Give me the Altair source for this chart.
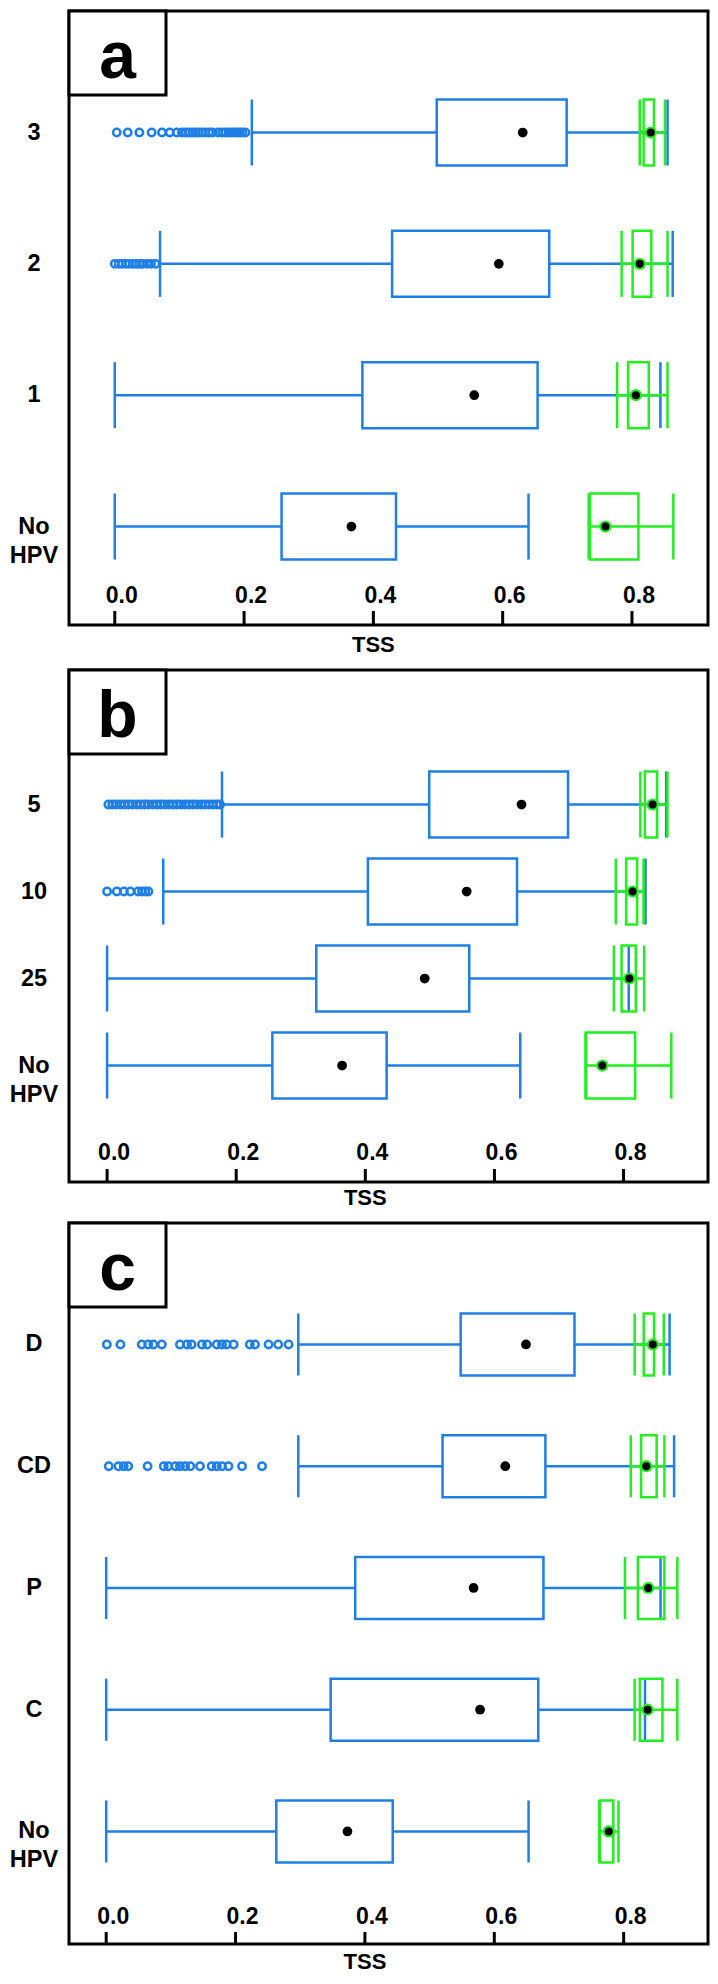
import altair as alt
import pandas as pd

BLUE = "#1F7FE6"
GREEN = "#22EE22"
FONT = "Liberation Sans"

# ---------------- panel a ----------------
cats_a = ["3", "2", "1", "No HPV"]
a_low = [0.212, 0.070, 0.000, 0.000]
a_q1 = [0.498, 0.429, 0.383, 0.258]
a_q3 = [0.699, 0.672, 0.654, 0.435]
a_high = [0.855, 0.863, 0.844, 0.640]
a_mean = [0.631, 0.594, 0.556, 0.366]
a_glow = [0.812, 0.784, 0.777, 0.733]
a_gq1 = [0.818, 0.801, 0.794, 0.735]
a_gq3 = [0.834, 0.830, 0.826, 0.810]
a_ghigh = [0.851, 0.855, 0.855, 0.864]
a_gmean = [0.829, 0.812, 0.806, 0.759]
a_out_3 = [0.003, 0.020, 0.038, 0.057, 0.073, 0.085, 0.096, 0.104, 0.110, 0.115,
           0.120, 0.125, 0.130, 0.135, 0.140, 0.146, 0.151, 0.160, 0.166, 0.171,
           0.176, 0.180, 0.185, 0.189, 0.193, 0.197, 0.202]
a_out_2 = [0.000, 0.006, 0.011, 0.017, 0.022, 0.028, 0.033, 0.038, 0.043, 0.050, 0.056, 0.063]

# ---------------- panel b ----------------
cats_b = ["5", "10", "25", "No HPV"]
b_low = [0.178, 0.087, 0.000, 0.000]
b_q1 = [0.499, 0.404, 0.324, 0.256]
b_q3 = [0.714, 0.635, 0.561, 0.433]
b_high = [0.866, 0.834, 0.808, 0.640]
b_mean = [0.642, 0.557, 0.492, 0.364]
b_glow = [0.826, 0.788, 0.785, 0.741]
b_gq1 = [0.833, 0.804, 0.797, 0.742]
b_gq3 = [0.852, 0.821, 0.819, 0.818]
b_ghigh = [0.868, 0.831, 0.832, 0.874]
b_gmean = [0.845, 0.814, 0.809, 0.767]
b_out_5 = [0.002, 0.008, 0.014, 0.021, 0.027, 0.033, 0.039, 0.046, 0.052, 0.058,
           0.064, 0.071, 0.077, 0.083, 0.089, 0.096, 0.102, 0.108, 0.114, 0.121,
           0.127, 0.133, 0.139, 0.146, 0.152, 0.158, 0.164, 0.170, 0.175]
b_out_10 = [0.000, 0.015, 0.026, 0.036, 0.048, 0.054, 0.059, 0.064]

# ---------------- panel c ----------------
cats_c = ["D", "CD", "P", "C", "No HPV"]
c_low = [0.297, 0.297, 0.000, 0.000, 0.000]
c_q1 = [0.548, 0.520, 0.385, 0.347, 0.263]
c_q3 = [0.724, 0.679, 0.676, 0.668, 0.443]
c_high = [0.871, 0.878, 0.857, 0.833, 0.653]
c_mean = [0.649, 0.617, 0.568, 0.578, 0.373]
c_glow = [0.817, 0.811, 0.802, 0.817, 0.762]
c_gq1 = [0.831, 0.827, 0.822, 0.825, 0.763]
c_gq3 = [0.847, 0.851, 0.863, 0.860, 0.784]
c_ghigh = [0.862, 0.863, 0.883, 0.883, 0.792]
c_gmean = [0.845, 0.835, 0.838, 0.837, 0.777]
c_out_D = [0.001, 0.022, 0.055, 0.065, 0.073, 0.086, 0.114, 0.125, 0.132, 0.148,
           0.156, 0.171, 0.179, 0.186, 0.197, 0.222, 0.230, 0.251, 0.266, 0.282]
c_out_CD = [0.004, 0.019, 0.027, 0.034, 0.064, 0.089, 0.096, 0.107, 0.114, 0.122,
            0.130, 0.145, 0.163, 0.171, 0.179, 0.189, 0.210, 0.241]

tick_vals = [0.0, 0.2, 0.4, 0.6, 0.8]
tick_labels = ["0.0", "0.2", "0.4", "0.6", "0.8"]
axis_title = "TSS"
title_at = [0.4]

W = 639


def make_panel(letter, cats, low, q1, q3, high, mean, glow, gq1, gq3, ghigh, gmean,
               outliers, domain, H, p_outer, align, box, tick_len, lab_up, title_down):
    summary = pd.DataFrame({
        "cat": cats, "low": low, "q1": q1, "q3": q3, "high": high, "mean": mean,
        "glow": glow, "gq1": gq1, "gq3": gq3, "ghigh": ghigh, "gmean": gmean,
    })
    oc, ov = [], []
    for c, vals in outliers.items():
        oc += [c] * len(vals)
        ov += vals
    out_df = pd.DataFrame({"cat": oc, "val": ov})
    lab_df = pd.DataFrame({"letter": [letter]})
    tick_df = pd.DataFrame({"v": tick_vals, "lab": tick_labels})
    title_df = pd.DataFrame({"v": title_at, "t": [axis_title]})

    xs = alt.Scale(domain=domain, nice=False, zero=False)
    ys = alt.Scale(domain=cats, paddingInner=0, paddingOuter=p_outer, align=align)

    def X(f):
        return alt.X(f"{f}:Q", scale=xs, axis=None)

    def Y():
        return alt.Y("cat:N", scale=ys, axis=None)

    base = alt.Chart(summary)
    layers = [
        base.mark_rule(color=BLUE, strokeWidth=2.5).encode(x=X("low"), x2="q1", y=Y()),
        base.mark_rule(color=BLUE, strokeWidth=2.5).encode(x=X("q3"), x2="high", y=Y()),
        base.mark_tick(color=BLUE, thickness=2.5, size=box, opacity=1).encode(x=X("low"), y=Y()),
        base.mark_tick(color=BLUE, thickness=2.5, size=box, opacity=1).encode(x=X("high"), y=Y()),
        base.mark_bar(filled=False, color=BLUE, strokeWidth=2.5, size=box).encode(
            x=X("q1"), x2="q3", y=Y()),
        alt.Chart(out_df).mark_point(shape="circle", filled=False, color=BLUE, size=55,
                                     strokeWidth=2.5, opacity=1).encode(x=X("val"), y=Y()),
        base.mark_point(shape="circle", filled=True, color="black", size=95, opacity=1).encode(
            x=X("mean"), y=Y()),
        base.mark_rule(color=GREEN, strokeWidth=2.5).encode(x=X("glow"), x2="ghigh", y=Y()),
        base.mark_tick(color=GREEN, thickness=2.5, size=box, opacity=1).encode(x=X("glow"), y=Y()),
        base.mark_tick(color=GREEN, thickness=2.5, size=box, opacity=1).encode(x=X("ghigh"), y=Y()),
        base.mark_bar(filled=False, color=GREEN, strokeWidth=2.5, size=box).encode(
            x=X("gq1"), x2="gq3", y=Y()),
        base.mark_point(shape="circle", filled=True, color=GREEN, size=150, opacity=1).encode(
            x=X("gmean"), y=Y()),
        base.mark_point(shape="circle", filled=True, color="black", size=65, opacity=1).encode(
            x=X("gmean"), y=Y()),
        # category labels to the left of the frame
        base.mark_text(font=FONT, fontSize=23.5, fontWeight="bold", color="black",
                       align="center", baseline="middle", lineBreak=" ", lineHeight=29).encode(
            x=alt.value(-35), y=Y(), text="cat:N"),
        # x axis drawn inside the frame: ticks, labels, title
        alt.Chart(tick_df).mark_tick(orient="vertical", color="black", thickness=3,
                                     size=tick_len, opacity=1).encode(
            x=X("v"), y=alt.value(H - tick_len / 2)),
        alt.Chart(tick_df).mark_text(font=FONT, fontSize=23, fontWeight="bold", color="black",
                                     align="center", baseline="alphabetic", dx=7).encode(
            x=X("v"), y=alt.value(H - lab_up), text="lab:N"),
        alt.Chart(title_df).mark_text(font=FONT, fontSize=22, fontWeight="bold", color="black",
                                      align="center", baseline="middle").encode(
            x=X("v"), y=alt.value(H + title_down), text="t:N"),
        # panel letter box
        alt.Chart(lab_df).mark_rect(fill="white", stroke="black", strokeWidth=3).encode(
            x=alt.value(0), x2=alt.value(97), y=alt.value(0), y2=alt.value(84)),
        alt.Chart(lab_df).mark_text(font=FONT, fontSize=66, fontWeight="bold", color="black",
                                    align="center", baseline="alphabetic").encode(
            x=alt.value(48.5), y=alt.value(67), text="letter:N"),
    ]
    return alt.layer(*layers).properties(width=W, height=H)


pa = make_panel("a", cats_a, a_low, a_q1, a_q3, a_high, a_mean,
                a_glow, a_gq1, a_gq3, a_ghigh, a_gmean,
                {"3": a_out_3, "2": a_out_2},
                [-0.0708, 0.9176], 614, 0.3377, 0.63, 66, 14, 22, 20)
pb = make_panel("b", cats_b, b_low, b_q1, b_q3, b_high, b_mean,
                b_glow, b_gq1, b_gq3, b_ghigh, b_gmean,
                {"5": b_out_5, "10": b_out_10},
                [-0.0590, 0.9308], 512, 0.9425, 0.555, 66, 13, 22, 16)
pc = make_panel("c", cats_c, c_low, c_q1, c_q3, c_high, c_mean,
                c_glow, c_gq1, c_gq3, c_ghigh, c_gmean,
                {"D": c_out_D, "CD": c_out_CD},
                [-0.0575, 0.9304], 721, 0.461, 0.540, 62, 12, 20.5, 18)

chart = alt.vconcat(pa, pb, pc, spacing=9).properties(
    padding=0, background="white"
).configure_view(stroke="black", strokeWidth=3)

chart.save("out.html", embed_options={"renderer": "svg", "actions": False})
